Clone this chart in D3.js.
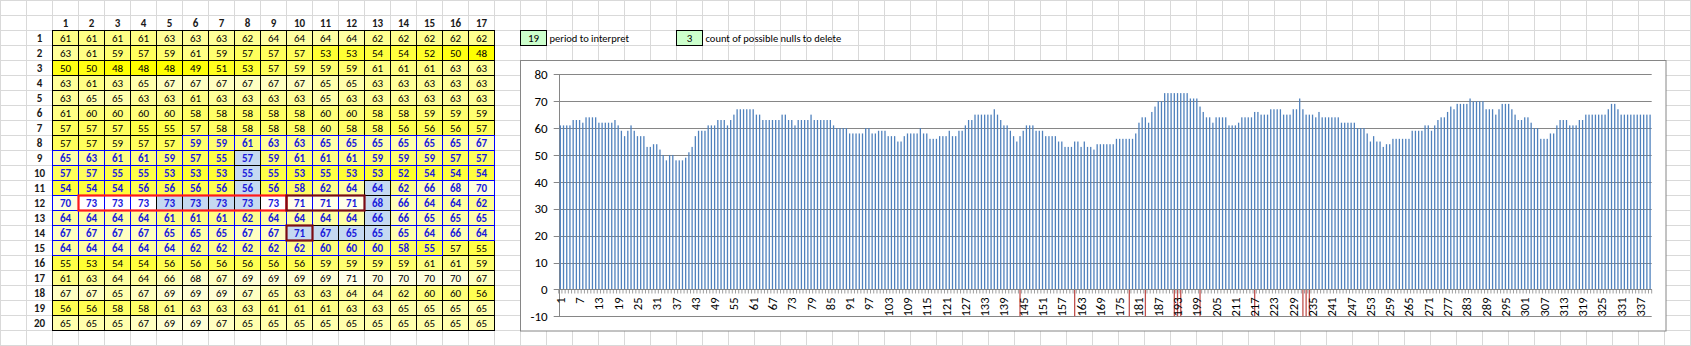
<!DOCTYPE html>
<html>
<head>
<meta charset="utf-8">
<script src="https://cdn.jsdelivr.net/npm/d3@7"></script>
<style>
  html, body { margin: 0; padding: 0; background: #fff; }
  svg { display: block; }
  text { font-family: Calibri, Carlito, "Liberation Sans", Arial, sans-serif; }
</style>
</head>
<body>
<svg id="c" width="1691" height="346"></svg>
<script>
// ---- data (table rows, read row-major; the bar series is the same values) ----
const colHeaders = d3.range(1, 18);
const rowHeaders = d3.range(1, 21);
const rows = [
  [61,61,61,61,63,63,63,62,64,64,64,64,62,62,62,62,62],
  [63,61,59,57,59,61,59,57,57,57,53,53,54,54,52,50,48],
  [50,50,48,48,48,49,51,53,57,59,59,59,61,61,61,63,63],
  [63,61,63,65,67,67,67,67,67,67,65,65,63,63,63,63,63],
  [63,65,65,63,63,61,63,63,63,63,65,63,63,63,63,63,63],
  [61,60,60,60,60,58,58,58,58,58,60,60,58,58,59,59,59],
  [57,57,57,55,55,57,58,58,58,58,60,58,58,56,56,56,57],
  [57,57,59,57,57,59,59,61,63,63,65,65,65,65,65,65,67],
  [65,63,61,61,59,57,55,57,59,61,61,61,59,59,59,57,57],
  [57,57,55,55,53,53,53,55,55,53,55,53,53,52,54,54,54],
  [54,54,54,56,56,56,56,56,56,58,62,64,64,62,66,68,70],
  [70,73,73,73,73,73,73,73,73,71,71,71,68,66,64,64,62],
  [64,64,64,64,61,61,61,62,64,64,64,64,66,66,65,65,65],
  [67,67,67,67,65,65,65,67,67,71,67,65,65,65,64,66,64],
  [64,64,64,64,64,62,62,62,62,62,60,60,60,58,55,57,55],
  [55,53,54,54,56,56,56,56,56,56,59,59,59,59,61,61,59],
  [61,63,64,64,66,68,67,69,69,69,69,71,70,70,70,70,67],
  [67,67,65,67,69,69,69,67,65,63,63,64,64,62,60,60,56],
  [56,56,58,58,61,63,63,63,61,61,61,63,63,65,65,65,65],
  [65,65,65,67,69,69,67,65,65,65,65,65,65,65,65,65,65]
];
// positions (1-based) of the light-blue cells
const blueCells = [144,161,178,183,192,193,194,195,200,217,231,232,233,234];
// positions (1-based) marked by the red series under the axis
const nullMarks = [144,161,178,183,192,193,194,200,217,232,233,234];
const markerValue = -10;
const regionStart = 125, regionEnd = 253;   // blue-outlined block
const redBoxes = [
  {r: 12, c1: 2, c2: 9, color: "#ff1a1a"},
  {r: 12, c1: 10, c2: 12, color: "#7a0a14"},
  {r: 14, c1: 10, c2: 10, color: "#7a0a14"}
];
const periodValue = 19, periodLabel = "period to interpret";
const nullsValue = 3, nullsLabel = "count of possible nulls to delete";
const yTicks = [-10,0,10,20,30,40,50,60,70,80];

const values = rows.flat();
const N = values.length;
const cats = d3.range(1, N + 1);

const svg = d3.select("#c");

// ---- spreadsheet gridlines ----
const CW = 26, RH = 15, X0 = 0.5, Y0 = 0.5;
const grid = svg.append("g").attr("stroke", "#d9d9d9").attr("stroke-width", 1);
for (let k = 0; k * CW + X0 <= 1691; k++)
  grid.append("line").attr("x1", X0 + k * CW).attr("x2", X0 + k * CW).attr("y1", 0).attr("y2", 346);
for (let k = 0; k * RH + Y0 <= 346; k++)
  grid.append("line").attr("x1", 0).attr("x2", 1691).attr("y1", Y0 + k * RH).attr("y2", Y0 + k * RH);

// ---- table ----
const tx = c => X0 + CW * (c + 1);   // c = 1..17
const ty = r => Y0 + RH * (r + 1);   // r = 1..20
const color = d3.scaleLinear().domain([48, 73]).range(["#ffff00", "#ffffff"]).clamp(true);
const blueSet = new Set(blueCells);

const cells = values.map((v, i) => ({v, i: i + 1, r: Math.floor(i / 17) + 1, c: (i % 17) + 1}));
const inRegion = d => d.i >= regionStart && d.i <= regionEnd;

const tbl = svg.append("g");
tbl.selectAll("text.ch").data(colHeaders).join("text")
  .attr("x", c => tx(c) + CW / 2).attr("y", ty(0) + RH / 2)
  .attr("dy", "0.36em").attr("text-anchor", "middle")
  .attr("font-size", 11).attr("font-weight", "bold").attr("fill", "#1a1a1a").text(c => c);
tbl.selectAll("text.rh").data(rowHeaders).join("text")
  .attr("x", X0 + CW * 1.5).attr("y", r => ty(r) + RH / 2)
  .attr("dy", "0.36em").attr("text-anchor", "middle")
  .attr("font-size", 11).attr("font-weight", "bold").attr("fill", "#1a1a1a").text(r => r);

const order = d => (blueSet.has(d.i) ? 2 : inRegion(d) ? 1 : 0);
const sorted = cells.slice().sort((a, b) => order(a) - order(b));
tbl.selectAll("rect.cell").data(sorted).join("rect")
  .attr("x", d => tx(d.c)).attr("y", d => ty(d.r)).attr("width", CW).attr("height", RH)
  .attr("fill", d => blueSet.has(d.i) ? "#c5d9f1" : color(d.v))
  .attr("stroke", d => blueSet.has(d.i) ? "#000" : inRegion(d) ? "#0000ff" : "#000")
  .attr("stroke-width", 1);
tbl.selectAll("text.cell").data(cells).join("text")
  .attr("x", d => tx(d.c) + CW / 2).attr("y", d => ty(d.r) + RH / 2)
  .attr("dy", "0.36em").attr("text-anchor", "middle").attr("font-size", 11)
  .attr("fill", d => inRegion(d) ? "#1a1adc" : "#000")
  .attr("font-weight", d => inRegion(d) ? "bold" : "normal")
  .text(d => d.v);
tbl.selectAll("rect.box").data(redBoxes).join("rect")
  .attr("x", d => tx(d.c1)).attr("y", d => ty(d.r))
  .attr("width", d => (d.c2 - d.c1 + 1) * CW).attr("height", RH)
  .attr("fill", "none").attr("stroke", d => d.color).attr("stroke-width", 2.2);

// ---- input cells ----
const inputs = [
  {col: 20, v: periodValue, label: periodLabel},
  {col: 26, v: nullsValue, label: nullsLabel}
];
const ig = svg.append("g");
inputs.forEach(d => {
  const x = X0 + CW * d.col, y = ty(1);
  ig.append("rect").attr("x", x).attr("y", y).attr("width", CW).attr("height", RH)
    .attr("fill", "#ccffcc").attr("stroke", "#000");
  ig.append("text").attr("x", x + CW / 2).attr("y", y + RH / 2).attr("dy", "0.36em")
    .attr("text-anchor", "middle").attr("font-size", 11).text(d.v);
  ig.append("text").attr("x", x + CW + 3).attr("y", y + RH / 2).attr("dy", "0.36em")
    .attr("font-size", 10.5).text(d.label);
});

// ---- chart ----
const frame = {x: 520.5, y: 60.5, w: 1145.5, h: 270.5};
svg.append("rect").attr("x", frame.x).attr("y", frame.y).attr("width", frame.w).attr("height", frame.h)
  .attr("fill", "#fff").attr("stroke", "#868686");

const plot = {l: 558.7, r: 1651.7, t: 74.3, b: 316.3};
const x = d3.scaleBand().domain(cats).range([plot.l, plot.r]).padding(0);
const y = d3.scaleLinear().domain([-10, 80]).range([plot.b, plot.t]);
const bw = x.bandwidth();
const barW = bw / 2.5;

const ch = svg.append("g");
ch.append("g").selectAll("line").data(yTicks).join("line")
  .attr("x1", plot.l - 5).attr("x2", plot.r)
  .attr("y1", d => Math.round(y(d)) + 0.5).attr("y2", d => Math.round(y(d)) + 0.5)
  .attr("stroke", "#868686").attr("stroke-width", 1);
ch.append("line").attr("x1", Math.round(plot.l) + 0.5).attr("x2", Math.round(plot.l) + 0.5)
  .attr("y1", plot.t).attr("y2", Math.round(plot.b) + 0.5).attr("stroke", "#868686");
ch.append("g").selectAll("text").data(yTicks).join("text")
  .attr("x", plot.l - 11).attr("y", d => y(d)).attr("dy", "0.36em")
  .attr("text-anchor", "end").attr("font-size", 13).attr("fill", "#000").text(d => d);

// bars
ch.append("g").selectAll("rect").data(cats).join("rect")
  .attr("x", i => x(i) + (bw - barW) / 2)
  .attr("y", i => y(Math.max(0, values[i - 1])))
  .attr("width", barW)
  .attr("height", i => Math.abs(y(values[i - 1]) - y(0)))
  .attr("fill", "#4f81bd");
// red series
ch.append("g").selectAll("rect").data(nullMarks).join("rect")
  .attr("x", i => x(i) + (bw - barW) / 2)
  .attr("y", y(0))
  .attr("width", barW)
  .attr("height", y(markerValue) - y(0))
  .attr("fill", "#c0504d");

// x axis line + ticks
const y0 = Math.round(y(0)) + 0.5;
ch.append("line").attr("x1", plot.l).attr("x2", plot.r).attr("y1", y0).attr("y2", y0).attr("stroke", "#868686");
ch.append("g").selectAll("line").data(d3.range(0, N + 1)).join("line")
  .attr("x1", k => plot.l + k * bw).attr("x2", k => plot.l + k * bw)
  .attr("y1", y0).attr("y2", y0 + 4).attr("stroke", "#868686").attr("stroke-width", 0.8);
ch.append("g").selectAll("text").data(cats.filter(i => (i - 1) % 6 === 0)).join("text")
  .attr("transform", i => `translate(${x(i) + bw / 2},${y0 + 8}) rotate(-90)`)
  .attr("text-anchor", "end").attr("dy", "0.36em")
  .attr("font-size", 12.5).attr("fill", "#000").text(i => i);
</script>
</body>
</html>
